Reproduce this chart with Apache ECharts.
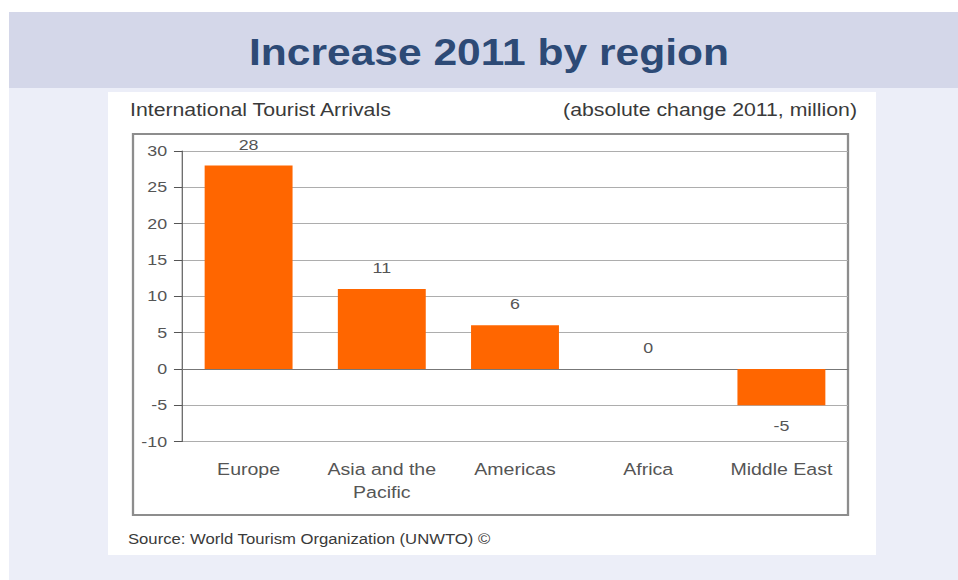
<!DOCTYPE html>
<html>
<head>
<meta charset="utf-8">
<title>Increase 2011 by region</title>
<script src="https://cdn.jsdelivr.net/npm/echarts@6/dist/echarts.min.js"></script>
<style>
  html, body { margin: 0; padding: 0; width: 958px; height: 580px; overflow: hidden; background: #ffffff; }
  #band { position: absolute; left: 9px; top: 12px; width: 949px; height: 76px; background: #d4d7e9; }
  #page { position: absolute; left: 9px; top: 88px; width: 949px; height: 492px; background: #eceef8; }
  #panel { position: absolute; left: 108px; top: 92px; width: 768px; height: 463px; background: #ffffff; }
  /* the chart is laid out in a narrower box and widened horizontally */
  #chart { position: absolute; left: 0; top: 0; width: 833px; height: 580px;
           transform: scaleX(1.15); transform-origin: 0 0; }
</style>
</head>
<body>
<div id="band"></div>
<div id="page"></div>
<div id="panel"></div>
<div id="chart"></div>
<script>
// Absolute change in international tourist arrivals, 2011 (million)
const regions = ['Europe', 'Asia and the\nPacific', 'Americas', 'Africa', 'Middle East'];
const changes = [28, 11, 6, 0, -5];
const yMin = -10;
const yMax = 30;
const yStep = 5;

const titleText = 'Increase 2011 by region';
const subtitleLeft = 'International Tourist Arrivals';
const subtitleRight = '(absolute change 2011, million)';
const sourceText = 'Source: World Tourism Organization (UNWTO) \u00a9';

const FONT = 'Arial, "Liberation Sans", Helvetica, sans-serif';
const SX = 1.15; // horizontal stretch applied to the chart box
const px = x => x / SX; // page x -> chart x

const chart = echarts.init(document.getElementById('chart'), null, { renderer: 'svg' });

const barData = changes.map(v => ({
  value: v,
  label: { position: v < 0 ? 'bottom' : 'top' }
}));

chart.setOption({
  backgroundColor: 'transparent',
  animation: false,
  textStyle: { fontFamily: FONT },
  grid: {
    left: px(182),
    right: 833 - px(848),
    top: 151,
    bottom: 580 - 441.5,
    containLabel: false
  },
  xAxis: {
    type: 'category',
    data: regions,
    position: 'bottom',
    axisLine: { show: true, onZero: true, lineStyle: { color: '#777777', width: 1 } },
    axisTick: { show: false },
    axisLabel: {
      interval: 0,
      hideOverlap: false,
      fontFamily: FONT,
      fontSize: 17,
      color: '#555555',
      lineHeight: 23,
      margin: 16
    }
  },
  yAxis: {
    type: 'value',
    min: yMin,
    max: yMax,
    interval: yStep,
    axisLine: { show: true, lineStyle: { color: '#555555', width: 1 } },
    axisTick: { show: true, inside: false, length: 7, lineStyle: { color: '#555555' } },
    axisLabel: { fontFamily: FONT, fontSize: 15.5, color: '#555555', margin: 13 },
    splitLine: { show: true, lineStyle: { color: '#adadad', width: 1 } }
  },
  series: [{
    type: 'bar',
    data: barData,
    barCategoryGap: '34%',
    itemStyle: { color: '#ff6600' },
    label: {
      show: true,
      distance: 13,
      fontFamily: FONT,
      fontSize: 15.5,
      color: '#555555'
    }
  }],
  graphic: [
    {
      type: 'rect',
      shape: { x: px(133), y: 134, width: px(848) - px(133), height: 515 - 134 },
      style: { fill: 'none', stroke: '#8d8d8d', lineWidth: 2 },
      silent: true
    },
    {
      type: 'text',
      x: px(489), y: 52,
      style: {
        text: titleText,
        fontFamily: FONT, fontWeight: 'bold', fontSize: 37,
        fill: '#2d4a76', align: 'center', verticalAlign: 'middle'
      }
    },
    {
      type: 'text',
      x: px(130), y: 110,
      style: {
        text: subtitleLeft,
        fontFamily: FONT, fontSize: 18.5,
        fill: '#3a3a3a', align: 'left', verticalAlign: 'middle'
      }
    },
    {
      type: 'text',
      x: px(857), y: 110,
      style: {
        text: subtitleRight,
        fontFamily: FONT, fontSize: 18.5,
        fill: '#3a3a3a', align: 'right', verticalAlign: 'middle'
      }
    },
    {
      type: 'text',
      x: px(128), y: 539,
      style: {
        text: sourceText,
        fontFamily: FONT, fontSize: 14.5,
        fill: '#3a3a3a', align: 'left', verticalAlign: 'middle'
      }
    }
  ]
});
</script>
</body>
</html>
